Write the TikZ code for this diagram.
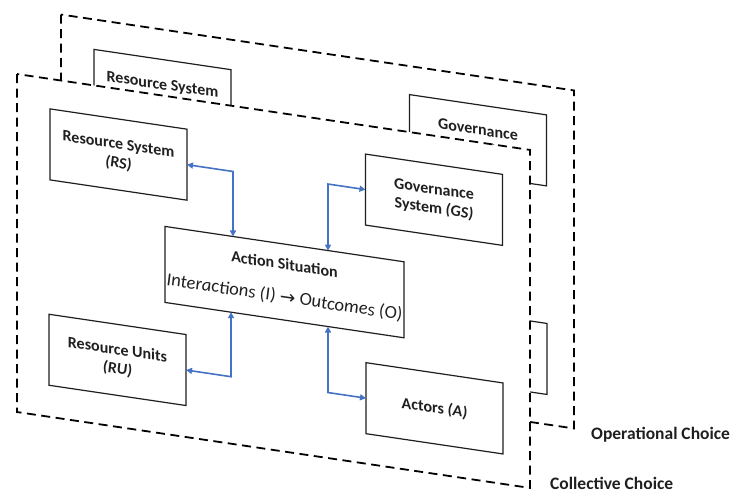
\documentclass[tikz,border=0pt]{standalone}
\usepackage{fontspec}
\setmainfont{Carlito}
\newfontfamily\arrowfont{DejaVu Sans}
\usetikzlibrary{arrows.meta,calc}
\definecolor{linkblue}{HTML}{4472C4}
\definecolor{inkgray}{HTML}{1F1F1F}
\tikzset{
  panel/.style={draw=black, line width=1.8pt, dash pattern=on 9pt off 5.5pt, fill=white},
  factor/.style={draw=inkgray, line width=1.2pt, fill=white, minimum width=137pt,
    minimum height=71pt, inner sep=0pt, outer sep=0pt, align=center,
    font=\bfseries\fontsize{16}{19}\selectfont, text=inkgray},
  situation/.style={factor, minimum width=239pt, minimum height=76pt, text depth=3pt},
  link/.style={draw=linkblue, line width=1.6pt,
    {Triangle[length=6pt,width=6pt]}-{Triangle[length=6pt,width=6pt]}},
  level/.style={font=\bfseries\fontsize{17.5}{20}\selectfont, text=inkgray,
    anchor=base west, inner sep=0pt}
}
\begin{document}
\begin{tikzpicture}[x=1pt,y=1pt]
\useasboundingbox (0,0) rectangle (730,-493);
% both layers live in a sheared plane; the back layer is an offset copy
\begin{scope}[cm={1,-0.148,0,1,(0,0)}, transform shape]
\foreach \lay/\dx/\dy in {back/44/66, front/0/0}{
  \begin{scope}[shift={(\dx,\dy)}]
    \draw[panel] (17,-71.5) rectangle (530,-409.5);
    \node[factor] (\lay-rs) at (118.5,-137) {Resource System\\\textit{(RS)}};
    \node[factor] (\lay-gs) at (434,-135.5) {Governance\\System \textit{(GS)}};
    \node[situation] (\lay-as) at (284.5,-240)
      {Action Situation\\[14pt]{\mdseries\itshape\fontsize{18.5}{20}\selectfont Interactions (I) {\arrowfont\upshape →} Outcomes (O)}};
    \node[factor] (\lay-ru) at (117.5,-342.5) {Resource Units\\\textit{(RU)}};
    \node[factor] (\lay-ac) at (434.5,-344) {Actors \textit{(A)}};
  \end{scope}
}
% two-way links of the front layer, with their elbows
\coordinate (k1) at (233,-137);
\coordinate (k2) at (328,-135.5);
\coordinate (k3) at (231,-342.5);
\coordinate (k4) at (328,-344);
\draw[link] (front-rs.east) -- (k1) -- ($(front-as.north west)!0.2845!(front-as.north east)$);
\draw[link] (front-gs.west) -- (k2) -- ($(front-as.north west)!0.682!(front-as.north east)$);
\draw[link] (front-ru.east) -- (k3) -- ($(front-as.south west)!0.2762!(front-as.south east)$);
\draw[link] (front-ac.west) -- (k4) -- ($(front-as.south west)!0.682!(front-as.south east)$);
\end{scope}
\node[level] (op) at (591,-439) {Operational Choice};
\node[level] (cc) at (550,-489.5) {Collective Choice};
\end{tikzpicture}
\end{document}
